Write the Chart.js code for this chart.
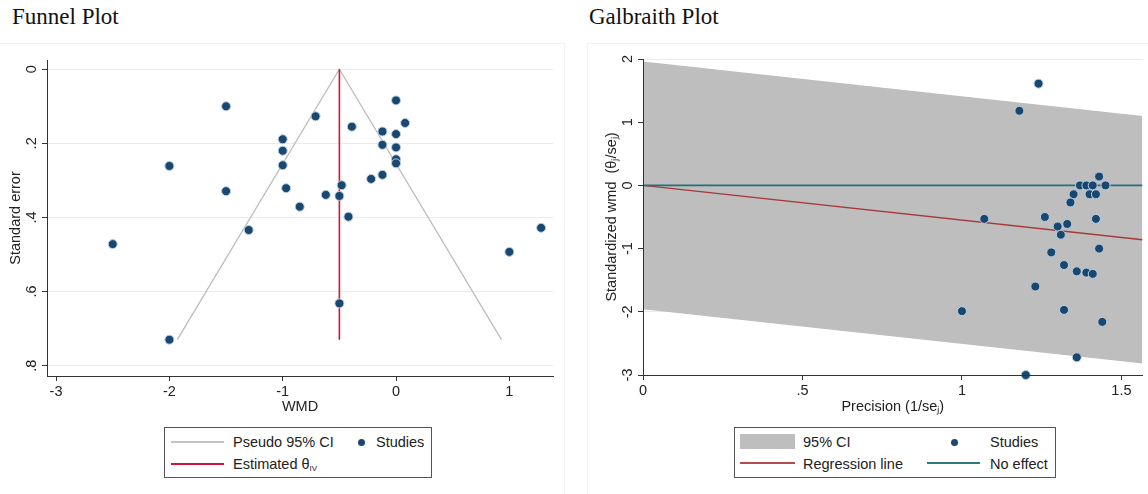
<!DOCTYPE html>
<html>
<head>
<meta charset="utf-8">
<script src="https://cdn.jsdelivr.net/npm/chart.js@4.4.1/dist/chart.umd.min.js"></script>
<style>
  body { margin: 0; width: 1148px; height: 494px; background: #fff; position: relative; overflow: hidden;
         font-family: "Liberation Sans", Arial, sans-serif; color: #222; }
  .title { position: absolute; top: 5px; font-family: "Liberation Serif", "Times New Roman", serif;
           font-size: 23px; line-height: 23px; color: #111; white-space: nowrap; }
  .panel { position: absolute; top: 43px; height: 452px; border: 1px solid #eef1f4; box-sizing: border-box; }
  canvas { position: absolute; top: 44px; }
  .box { position: absolute; border: 1px solid #555; box-sizing: border-box; background: #fff; }
  .txt { position: absolute; font-size: 14.5px; line-height: 16px; white-space: nowrap; color: #222; }
  .txt sub { font-size: 8px; vertical-align: -2px; }
  .sw { position: absolute; }
  .dot { position: absolute; width: 7px; height: 7px; border-radius: 50%; background: #1a476f; }
</style>
</head>
<body>
<div class="panel" style="left:-1px; width:566px;"></div>
<div class="panel" style="left:587px; width:570px;"></div>

<div class="title" style="left:12px;">Funnel Plot</div>
<div class="title" style="left:589px;">Galbraith Plot</div>

<canvas id="funnel" width="563" height="376" style="left:0px;"></canvas>
<canvas id="galbraith" width="558" height="376" style="left:590px;"></canvas>

<!-- funnel legend -->
<div class="box" style="left:164px; top:427px; width:268px; height:51px;"></div>
<div class="sw" style="left:171px; top:441px; width:53px; height:2px; background:#c4c4c4;"></div>
<div class="txt" style="left:233px; top:434px;">Pseudo 95% CI</div>
<div class="dot" style="left:357.5px; top:438.5px;"></div>
<div class="txt" style="left:376px; top:434px;">Studies</div>
<div class="sw" style="left:171px; top:463px; width:53px; height:2px; background:#cc1540;"></div>
<div class="txt" style="left:233px; top:456px;">Estimated θ<sub>IV</sub></div>

<!-- galbraith legend -->
<div class="box" style="left:734px; top:427px; width:322px; height:51px;"></div>
<div class="sw" style="left:740px; top:434px; width:55px; height:15px; background:#bebebe;"></div>
<div class="txt" style="left:803px; top:434px;">95% CI</div>
<div class="dot" style="left:950.5px; top:438.5px;"></div>
<div class="txt" style="left:990px; top:434px;">Studies</div>
<div class="sw" style="left:740px; top:462px; width:55px; height:2px; background:#b54a4e;"></div>
<div class="txt" style="left:803px; top:456px;">Regression line</div>
<div class="sw" style="left:927px; top:462px; width:53px; height:2px; background:#2a7c83;"></div>
<div class="txt" style="left:990px; top:456px;">No effect</div>

<script>
// funnel plot: effect size (WMD) against its standard error
const funnelWmd = [-1.5, -2, -1, -1, -1, -1.5, -0.97, -0.85, -1.3, -2.5, -2, -0.5, -0.71, -0.39, 0,
                   0.08, -0.12, 0, -0.12, 0, 0, 0, -0.62, -0.5, -0.48, -0.42, -0.22, -0.12, 1, 1.28];
const funnelSe  = [0.1, 0.261, 0.189, 0.22, 0.259, 0.329, 0.321, 0.371, 0.434, 0.472, 0.73, 0.632, 0.127, 0.155, 0.084,
                   0.145, 0.168, 0.175, 0.204, 0.211, 0.243, 0.254, 0.339, 0.342, 0.313, 0.398, 0.296, 0.285, 0.493, 0.428];
// pseudo 95% CI triangle and the pooled estimate
const ciX = [-1.93, -0.5, 0.93];
const ciY = [0.73, 0, 0.73];
const thetaX = [-0.5, -0.5];
const thetaY = [0, 0.73];
const funnelXTicks = [-3, -2, -1, 0, 1];
const funnelYTicks = [0, 0.2, 0.4, 0.6, 0.8];

// galbraith plot: precision against standardized wmd
const precision = [1.24, 1.18, 1.43, 1.37, 1.39, 1.41, 1.45, 1.35, 1.40, 1.42, 1.34, 1.07, 1.26, 1.42, 1.33,
                   1.30, 1.31, 1.28, 1.43, 1.32, 1.36, 1.39, 1.41, 1.23, 1.0, 1.32, 1.44, 1.36, 1.2];
const stdWmd    = [1.61, 1.18, 0.14, 0, 0, 0, 0, -0.14, -0.14, -0.14, -0.27, -0.53, -0.5, -0.53, -0.61,
                   -0.65, -0.78, -1.06, -1.0, -1.26, -1.36, -1.38, -1.4, -1.6, -1.99, -1.97, -2.16, -2.72, -3.0];
const lineX      = [0, 1.566];
const bandUpper  = [1.96, 1.1];
const bandLower  = [-1.96, -2.82];
const regression = [0, -0.86];
const noEffect   = [0, 0];
const galXTicks = [0, 0.5, 1, 1.5];
const galYTicks = [-3, -2, -1, 0, 1, 2];

const NAVY = '#1a476f';
const pts = (xs, ys) => xs.map((x, i) => ({ x: x, y: ys[i] }));
// Stata style labels: .2 instead of 0.2
const stata = v => String(v).replace(/^(-?)0\./, '$1.');
const tickFont = { family: 'Liberation Sans', size: 14.5 };

function xAxis(min, max, ticks, title, h) {
    return {
        type: 'linear', min: min, max: max,
        afterBuildTicks: s => { s.ticks = ticks.map(v => ({ value: v })); },
        afterFit: s => { s.height = h; },
        grid: { drawOnChartArea: false, drawTicks: true, tickLength: 5, tickColor: '#333' },
        border: { display: true, color: '#333', width: 1, z: 1 },
        ticks: { font: tickFont, color: '#222', padding: 2, maxRotation: 0, callback: v => stata(v) },
        title: { display: true, text: title, font: tickFont, color: '#222', padding: { top: 0, bottom: 4 } }
    };
}

function yAxis(min, max, ticks, title, w, titlePad, reverse) {
    return {
        type: 'linear', min: min, max: max, reverse: reverse,
        afterBuildTicks: s => { s.ticks = ticks.map(v => ({ value: v })); },
        afterFit: s => { s.width = w; },
        grid: { color: '#e4edf1', drawTicks: true, tickLength: 5, tickColor: '#333' },
        border: { display: true, color: '#333', width: 1, z: 1 },
        ticks: { font: tickFont, color: '#222', padding: 4, minRotation: 90, maxRotation: 90,
                 crossAlign: 'center', callback: v => stata(v) },
        title: { display: true, text: title, font: tickFont, color: '#222', padding: { top: titlePad, bottom: 0 } }
    };
}

const baseOpts = {
    responsive: false,
    animation: false,
    devicePixelRatio: 1,
    plugins: { legend: { display: false }, tooltip: { enabled: false } }
};

const studies = (data) => ({
    type: 'scatter', data: data, order: 0, clip: false,
    pointRadius: 4.5, pointBackgroundColor: NAVY, pointBorderColor: '#b7d0e2', pointBorderWidth: 1
});

new Chart(document.getElementById('funnel'), {
    type: 'scatter',
    data: {
        datasets: [
            studies(pts(funnelWmd, funnelSe)),
            { type: 'line', data: pts(thetaX, thetaY), order: 1, borderColor: '#cc1540', borderWidth: 1.6,
              pointRadius: 0, fill: false },
            { type: 'line', data: pts(ciX, ciY), order: 2, borderColor: '#bdbdbd', borderWidth: 1.3,
              pointRadius: 0, fill: false, tension: 0 }
        ]
    },
    options: Object.assign({}, baseOpts, {
        layout: { padding: { top: 16, right: 10, left: 0, bottom: 0 } },
        scales: {
            x: xAxis(-3.08, 1.385, funnelXTicks, 'WMD', 44),
            y: yAxis(-0.025, 0.828, funnelYTicks, 'Standard error', 47, 7.6, true)
        }
    })
});

new Chart(document.getElementById('galbraith'), {
    type: 'scatter',
    data: {
        datasets: [
            studies(pts(precision, stdWmd)),
            { type: 'line', data: pts(lineX, noEffect), order: 1, borderColor: '#23727a', borderWidth: 1.6,
              pointRadius: 0, fill: false },
            { type: 'line', data: pts(lineX, regression), order: 1, borderColor: '#a8383c', borderWidth: 1.4,
              pointRadius: 0, fill: false },
            { type: 'line', data: pts(lineX, bandUpper), order: 3, borderWidth: 0, pointRadius: 0, fill: false },
            { type: 'line', data: pts(lineX, bandLower), order: 2, borderWidth: 0, pointRadius: 0,
              fill: '-1', backgroundColor: '#bebebe' }
        ]
    },
    options: Object.assign({}, baseOpts, {
        layout: { padding: { top: 15, right: 0, left: 0, bottom: 0 } },
        scales: {
            x: xAxis(0, 1.566, galXTicks, 'Precision (1/seⱼ)', 45),
            y: yAxis(-3, 2, galYTicks, 'Standardized wmd  (θⱼ/seⱼ)', 53, 13.3, false)
        }
    })
});
</script>
</body>
</html>
